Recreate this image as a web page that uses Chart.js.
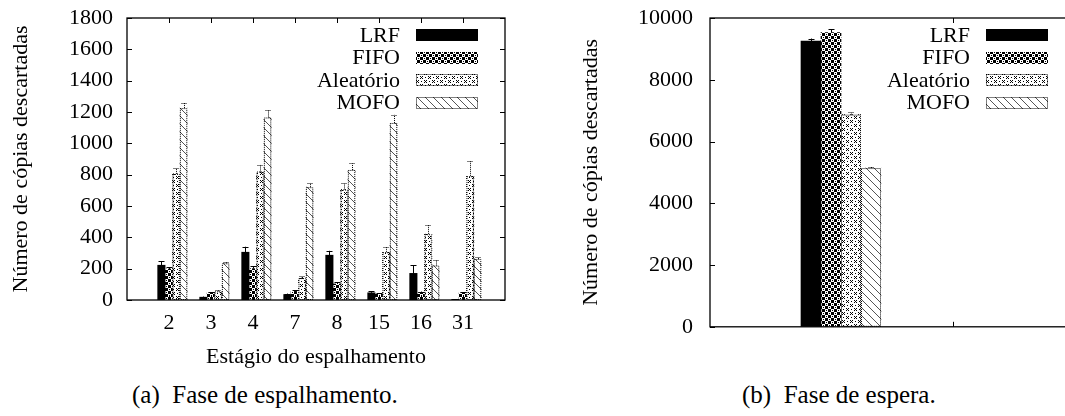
<!DOCTYPE html>
<html>
<head>
<meta charset="utf-8">
<script src="https://cdn.jsdelivr.net/npm/chart.js@4.4.1/dist/chart.umd.min.js"></script>
<style>
  html, body { margin: 0; padding: 0; background: #fff; overflow: hidden; width: 1065px; height: 416px; }
  #chartA { position: absolute; left: 0; top: 0; }
  #chartB { position: absolute; left: 570px; top: 0; }
  .caption { position: absolute; font: 25px "Liberation Serif", serif; color: #000; white-space: pre; }
</style>
</head>
<body>
<canvas id="chartA" width="530" height="370"></canvas>
<canvas id="chartB" width="515" height="340"></canvas>
<div class="caption" style="left:132px; top:381px">(a)&ensp;Fase de espalhamento.</div>
<div class="caption" style="left:742px; top:381px">(b)&ensp;Fase de espera.</div>
<script>
// (a) fase de espalhamento
const stages = ["2", "3", "4", "7", "8", "15", "16", "31"];
const policies = ["LRF", "FIFO", "Aleatório", "MOFO"];
const spreadLRF = [222, 18, 305, 35, 286, 46, 170, 4];
const spreadLRFErr = [27, 4, 35, 6, 28, 10, 52, 2];
const spreadFIFO = [198, 45, 200, 55, 102, 38, 48, 45];
const spreadFIFOErr = [12, 6, 15, 8, 12, 6, 6, 6];
const spreadRandom = [805, 55, 820, 140, 705, 305, 420, 790];
const spreadRandomErr = [35, 8, 42, 12, 40, 35, 60, 95];
const spreadMOFO = [1225, 234, 1165, 720, 830, 1130, 220, 262];
const spreadMOFOErr = [33, 10, 48, 27, 42, 52, 38, 10];
const yTicksA = [0, 200, 400, 600, 800, 1000, 1200, 1400, 1600, 1800];

// (b) fase de espera
const waitValues = [9250, 9530, 6870, 5140];
const waitErr = [85, 110, 70, 45];
const yTicksB = [0, 2000, 4000, 6000, 8000, 10000];

const FONT = '"Liberation Serif", "Times New Roman", serif';
Chart.defaults.font.family = FONT;
Chart.defaults.font.size = 22;
Chart.defaults.color = "#000";

function makePattern(ctx, rows, color) {
  const c = document.createElement("canvas");
  c.width = rows[0].length;
  c.height = rows.length;
  const g = c.getContext("2d");
  g.fillStyle = "#fff";
  g.fillRect(0, 0, c.width, c.height);
  g.fillStyle = color;
  rows.forEach((r, yy) => [...r].forEach((ch, xx) => { if (ch === "#") g.fillRect(xx, yy, 1, 1); }));
  return ctx.createPattern(c, "repeat");
}

function fills(ctx) {
  return [
    "#000",
    makePattern(ctx, ["...###", ".#.###", "...###", "###...", "###.#.", "###..."], "#000"),
    makePattern(ctx, ["#.#.....", ".#...#..", "#.#.....", "........", "....#.#.", ".#...#..", "....#.#.", "........"], "#000"),
    makePattern(ctx, ["#.......", ".#......", "..#.....", "...#....", "....#...", ".....#..", "......#.", ".......#"], "#555")
  ];
}

// gnuplot style frame, inward ticks, error bars, dotted outlines and legend
const gnuFrame = {
  id: "gnuFrame",
  afterDatasetsDraw(chart) {
    const { ctx, chartArea: a, scales: { x, y } } = chart;
    ctx.save();

    chart.data.datasets.forEach((ds, di) => {
      const meta = chart.getDatasetMeta(di);
      meta.data.forEach((bar, i) => {
        const p = bar.getProps(["x", "y", "base", "width"], true);
        const l = p.x - p.width / 2;
        ctx.strokeStyle = "#000";
        ctx.lineWidth = 1;
        ctx.setLineDash(ds.dotted ? [1, 1] : []);
        if (ds.dotted) ctx.strokeRect(l + 0.5, p.y + 0.5, p.width - 1, p.base - p.y - 1);
        const top = y.getPixelForValue(ds.data[i].y + ds.errors[i]);
        const cx = Math.round(p.x) + 0.5;
        ctx.beginPath();
        ctx.moveTo(cx, p.y);
        ctx.lineTo(cx, top);
        ctx.moveTo(cx - 3, Math.round(top) + 0.5);
        ctx.lineTo(cx + 3, Math.round(top) + 0.5);
        ctx.stroke();
      });
    });
    ctx.setLineDash([]);

    ctx.strokeStyle = "#000";
    ctx.lineWidth = 1.3;
    ctx.strokeRect(a.left, a.top, a.right - a.left, a.bottom - a.top);
    ctx.lineWidth = 1;
    ctx.beginPath();
    y.ticks.forEach(t => {
      const py = Math.round(y.getPixelForValue(t.value)) + 0.5;
      ctx.moveTo(a.left, py); ctx.lineTo(a.left + 5, py);
      ctx.moveTo(a.right - 5, py); ctx.lineTo(a.right, py);
    });
    x.ticks.forEach(t => {
      const px = Math.round(x.getPixelForValue(t.value)) + 0.5;
      ctx.moveTo(px, a.top); ctx.lineTo(px, a.top + 5);
      ctx.moveTo(px, a.bottom - 5); ctx.lineTo(px, a.bottom);
    });
    ctx.stroke();

    // legend
    ctx.font = "22px " + FONT;
    ctx.textAlign = "right";
    ctx.textBaseline = "middle";
    chart.data.datasets.forEach((ds, di) => {
      const cy = a.top + 17 + di * 22.5;
      const sx = a.right - 27 - 62;
      ctx.fillStyle = ds.backgroundColor;
      ctx.fillRect(sx, Math.round(cy - 6), 62, 12);
      if (ds.dotted) {
        ctx.setLineDash([1, 1]);
        ctx.strokeRect(sx + 0.5, Math.round(cy - 6) + 0.5, 61, 11);
        ctx.setLineDash([]);
      }
      ctx.fillStyle = "#000";
      ctx.fillText(ds.label, sx - 16, cy + 1);
    });
    ctx.restore();
  }
};

function yAxis(ticks, max, width, pad) {
  return {
    min: 0, max: max,
    afterBuildTicks: s => { s.ticks = ticks.map(v => ({ value: v })); },
    grid: { display: false, drawTicks: true, tickLength: pad },
    border: { display: false },
    ticks: { padding: 0, callback: v => String(v) },
    title: { display: true, text: "Número de cópias descartadas", padding: { top: 8, bottom: 0 } },
    afterFit: s => { s.width = width; }
  };
}

// chart (a)
const ctxA = document.getElementById("chartA").getContext("2d");
const fillA = fills(ctxA);
const seriesA = [
  [spreadLRF, spreadLRFErr],
  [spreadFIFO, spreadFIFOErr],
  [spreadRandom, spreadRandomErr],
  [spreadMOFO, spreadMOFOErr]
];
const shiftA = 0.083;
new Chart(ctxA, {
  type: "bar",
  data: {
    datasets: seriesA.map(([vals, errs], k) => ({
      label: policies[k],
      data: vals.map((v, i) => ({ x: i + shiftA, y: v })),
      errors: errs,
      dotted: k >= 2,
      backgroundColor: fillA[k],
      borderWidth: 0,
      barThickness: 7.4
    }))
  },
  options: {
    responsive: false,
    animation: false,
    layout: { padding: { top: 18, right: 25, left: 0, bottom: 0 } },
    plugins: { legend: { display: false }, tooltip: { enabled: false } },
    scales: {
      x: {
        type: "linear", min: -1, max: 8, offset: false,
        afterBuildTicks: s => { s.ticks = stages.map((_, i) => ({ value: i })); },
        grid: { display: false, drawTicks: true, tickLength: 10 },
        border: { display: false },
        ticks: { padding: 0, autoSkip: false, maxRotation: 0, callback: v => stages[v] },
        title: { display: true, text: "Estágio do espalhamento", padding: 0 },
        afterFit: s => { s.height = 70; }
      },
      y: yAxis(yTicksA, 1800, 127, 14)
    }
  },
  plugins: [gnuFrame]
});

// chart (b)
const ctxB = document.getElementById("chartB").getContext("2d");
const fillB = fills(ctxB);
new Chart(ctxB, {
  type: "bar",
  data: {
    datasets: policies.map((name, k) => ({
      label: name,
      data: [{ x: 0, y: waitValues[k] }],
      errors: [waitErr[k]],
      dotted: k >= 2,
      backgroundColor: fillB[k],
      borderWidth: 0,
      barThickness: 20
    }))
  },
  options: {
    responsive: false,
    animation: false,
    layout: { padding: { top: 18, right: 10, left: 0, bottom: 0 } },
    plugins: { legend: { display: false }, tooltip: { enabled: false } },
    scales: {
      x: {
        type: "linear", min: -1.17, max: 2.09, offset: false,
        afterBuildTicks: s => { s.ticks = [{ value: 1 }]; },
        grid: { display: false, drawTicks: false },
        border: { display: false },
        ticks: { display: false },
        afterFit: s => { s.height = 13; }
      },
      y: yAxis(yTicksB, 10000, 140, 17)
    }
  },
  plugins: [gnuFrame]
});
</script>
</body>
</html>
